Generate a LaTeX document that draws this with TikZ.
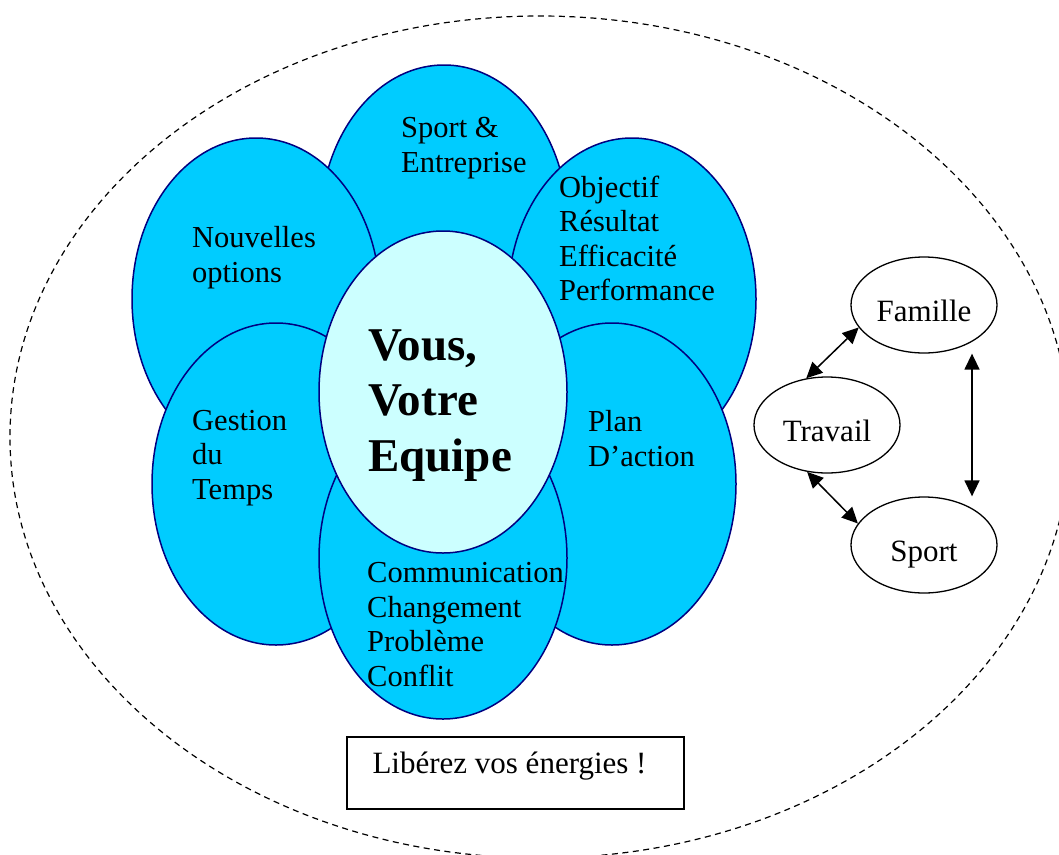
\documentclass[tikz,border=0pt]{standalone}
\usepackage{fontspec}
\setmainfont{Liberation Serif}
\usetikzlibrary{shapes.geometric,arrows.meta}
\definecolor{petal}{HTML}{00CCFF}
\definecolor{heart}{HTML}{CCFFFF}
\definecolor{rim}{HTML}{000080}
\begin{document}
\begin{tikzpicture}[x=1pt,y=-1pt,
  petalshape/.style={ellipse, draw=rim, line width=1.5pt, fill=petal,
    minimum width=248pt, minimum height=322pt, inner sep=0pt},
  heartshape/.style={petalshape, fill=heart},
  ptext/.style={anchor=base west, align=left, inner sep=0pt,
    font=\fontsize{30.5pt}{34.5pt}\selectfont},
  bigtext/.style={anchor=base west, align=left, inner sep=0pt,
    font=\fontsize{47pt}{55.5pt}\selectfont\bfseries},
  lifenode/.style={ellipse, draw, line width=1.3pt, minimum width=146pt,
    minimum height=96pt, inner sep=0pt, text height=32pt, text depth=0pt,
    font=\fontsize{31pt}{34.5pt}\selectfont},
  link/.style={line width=1.5pt, {Triangle[length=16pt,width=15pt]}-{Triangle[length=16pt,width=15pt]}},
  slogan/.style={draw, line width=1.3pt, minimum width=337pt, minimum height=72pt,
    inner sep=0pt, text height=22pt, text depth=22pt,
    font=\fontsize{31pt}{34.5pt}\selectfont}
]
\useasboundingbox (0,0) rectangle (1059,854);

% outer dashed frame
\draw[line width=1.2pt, dash pattern=on 6pt off 4.5pt] (540,437) ellipse [x radius=530pt, y radius=421pt];

% petals
\node[petalshape] (psport) at (444,226) {};
\node[petalshape] (pnouv) at (256,299) {};
\node[petalshape] (pobj) at (632,299) {};
\node[petalshape] (pgest) at (276,484) {};
\node[petalshape] (pplan) at (612,484) {};
\node[petalshape] (pcomm) at (443,558) {};
\node[heartshape] (pcenter) at (443,392) {};

% petal texts (anchor = baseline of the last line)
\node[ptext] (tsport) at (401,172) {Sport \&\\Entreprise};
\node[ptext] (tnouv) at (192,282) {Nouvelles\\options};
\node[ptext] (tobj) at (559,300.5) {Objectif\\Résultat\\Efficacité\\Performance};
\node[ptext] (tgest) at (192,499) {Gestion\\du\\Temps};
\node[ptext] (tplan) at (588,466) {Plan\\D’action};
\node[ptext] (tcomm) at (367,686) {Communication\\Changement\\Problème\\Conflit};
\node[bigtext] (tcenter) at (368,471) {Vous,\\Votre\\Equipe};

% right-hand triangle
\node[lifenode] (famille) at (924,305) {Famille};
\node[lifenode] (travail) at (827,425) {Travail};
\node[lifenode] (sport) at (924,545) {Sport};
\draw[link] (travail.114) -- (famille.199);
\draw[link] (travail.247) -- (sport.162);
\draw[link] ([xshift=48pt]famille.south) -- ([xshift=48pt]sport.north);

% slogan box
\node[slogan] (slogan) at (515.5,773) {Libérez vos énergies !\hspace*{12pt}};
\end{tikzpicture}
\end{document}
